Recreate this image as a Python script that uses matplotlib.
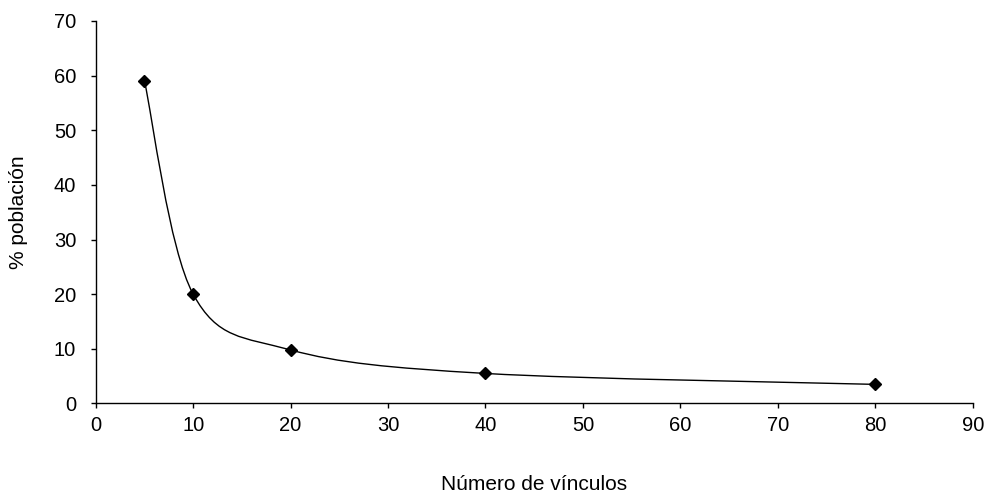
import matplotlib
matplotlib.use("Agg")
import matplotlib.pyplot as plt
from matplotlib.path import Path
from matplotlib.patches import PathPatch
import numpy as np

# Data
vinculos = [5, 10, 20, 40, 80]
poblacion = [59, 20, 9.8, 5.5, 3.5]
x_ticks = [0, 10, 20, 30, 40, 50, 60, 70, 80, 90]
y_ticks = [0, 10, 20, 30, 40, 50, 60, 70]
x_label = "Número de vínculos"
y_label = "% población"

plt.rcParams['font.family'] = ['Liberation Sans', 'DejaVu Sans']

fig = plt.figure(figsize=(9.87, 4.96), dpi=100)
ax = fig.add_axes([0.097, 0.1865, 0.8885, 0.7712])

# Smoothed line (Excel-style Catmull-Rom Bezier) through the data points
P = np.column_stack([vinculos, poblacion]).astype(float)
n = len(P)
verts = [tuple(P[0])]
codes = [Path.MOVETO]
for i in range(n - 1):
    p_prev = P[i - 1] if i > 0 else P[i]
    p_next2 = P[i + 2] if i + 2 < n else P[i + 1]
    c1 = P[i] + (P[i + 1] - p_prev) / 6.0
    c2 = P[i + 1] - (p_next2 - P[i]) / 6.0
    verts += [tuple(c1), tuple(c2), tuple(P[i + 1])]
    codes += [Path.CURVE4, Path.CURVE4, Path.CURVE4]
patch = PathPatch(Path(verts, codes), fill=False, edgecolor='black',
                  linewidth=1.0, transform=ax.transData, clip_on=False)
ax.add_patch(patch)

ax.plot(vinculos, poblacion, linestyle='none', marker='D', markersize=5.8,
        color='black', clip_on=False, zorder=3)

ax.set_xlim(0, 90)
ax.set_ylim(0, 70)
ax.set_xticks(x_ticks)
ax.set_yticks(y_ticks)

for s in ['top', 'right']:
    ax.spines[s].set_visible(False)
for s in ['left', 'bottom']:
    ax.spines[s].set_linewidth(1.0)
    ax.spines[s].set_color('black')

ax.tick_params(axis='both', direction='out', length=3.6, width=1.0,
               labelsize=14.5, colors='black')
ax.tick_params(axis='y', pad=10.5)
ax.tick_params(axis='x', pad=5.5)

ax.set_xlabel(x_label, fontsize=15)
ax.set_ylabel(y_label, fontsize=15)
ax.xaxis.set_label_coords(0.5, -0.186)
ax.yaxis.set_label_coords(-0.077, 0.5)

fig.savefig("out.png", dpi=100)
